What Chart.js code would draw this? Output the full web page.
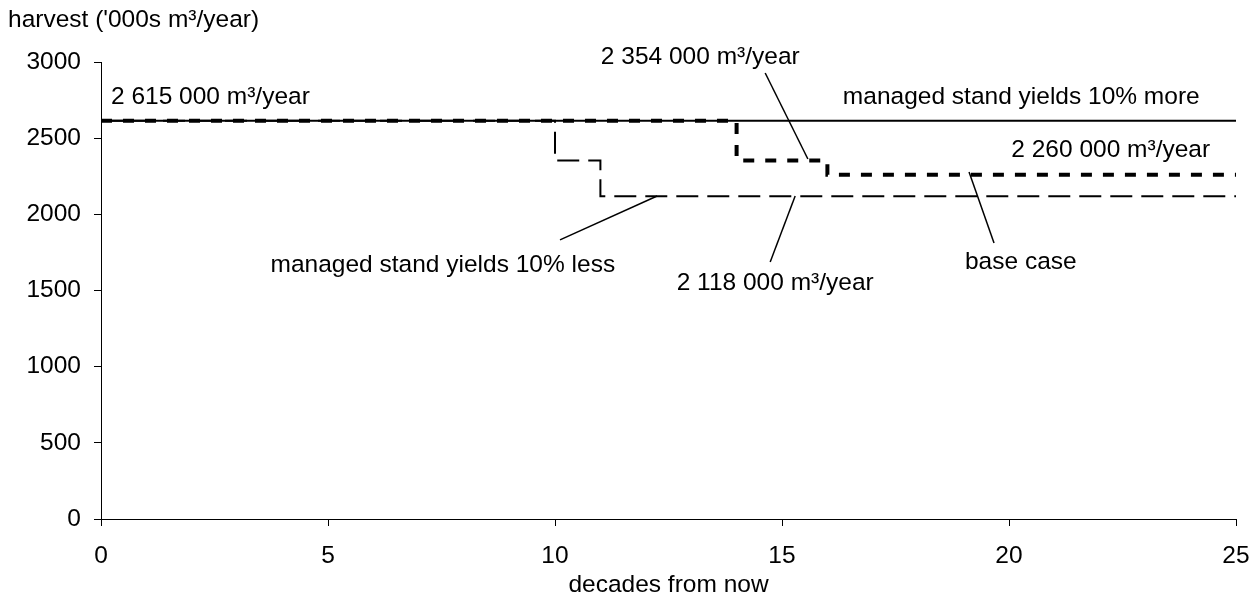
<!DOCTYPE html>
<html>
<head>
<meta charset="utf-8">
<title>Harvest projection</title>
<script src="https://cdn.jsdelivr.net/npm/chart.js@4/dist/chart.umd.min.js"></script>
<style>
    html, body { margin: 0; padding: 0; background: #ffffff; }
    #wrap { width: 1256px; height: 612px; position: relative; }
</style>
</head>
<body>
<div id="wrap"><canvas id="harvestChart"></canvas></div>
<script>
// Step points, decades from now and harvest in '000s m3/year
const moreDecades = [0, 25];
const moreHarvest = [2615, 2615];
const baseDecades = [0, 14, 16, 25];
const baseHarvest = [2615, 2354, 2260, 2260];
const lessDecades = [0, 10, 11, 25];
const lessHarvest = [2615, 2354, 2118, 2118];

// Tick values
const xTicks = [0, 5, 10, 15, 20, 25];
const yTicks = [0, 500, 1000, 1500, 2000, 2500, 3000];

// Callout texts, placed in data units
const labelTexts = ["2 615 000 m³/year", "managed stand yields 10% more", "2 354 000 m³/year",
    "2 260 000 m³/year", "base case", "managed stand yields 10% less", "2 118 000 m³/year"];
const labelX = [0.22, 24.2, 13.2, 24.43, 20.26, 7.53, 14.85];
const labelY = [2770, 2770, 3033, 2423, 1687, 1668, 1549];
const labelAlign = ["left", "right", "center", "right", "center", "center", "center"];

// Leader lines [x1, y1, x2, y2] in data units
const leaders = [
    [14.63, 2928, 15.57, 2363],
    [19.12, 2278, 19.67, 1812],
    [10.11, 1832, 12.25, 2120],
    [14.74, 1687, 15.29, 2120]
];

const FONT = "'Liberation Sans', Arial, sans-serif";
const FONT_SIZE = 24.5;

function toPoints(xs, ys) {
    return xs.map((x, i) => ({ x: x, y: ys[i] }));
}

// Draws callouts and axis titles
const calloutPlugin = {
    id: "callouts",
    afterDraw(chart) {
        const ctx = chart.ctx;
        const xs = chart.scales.x;
        const ys = chart.scales.y;
        ctx.save();
        ctx.fillStyle = "#000";
        ctx.strokeStyle = "#000";
        ctx.lineWidth = 1.5;
        ctx.font = FONT_SIZE + "px " + FONT;
        ctx.textBaseline = "middle";

        labelTexts.forEach((t, i) => {
            ctx.textAlign = labelAlign[i];
            ctx.fillText(t, xs.getPixelForValue(labelX[i]), ys.getPixelForValue(labelY[i]));
        });

        leaders.forEach(l => {
            ctx.beginPath();
            ctx.moveTo(xs.getPixelForValue(l[0]), ys.getPixelForValue(l[1]));
            ctx.lineTo(xs.getPixelForValue(l[2]), ys.getPixelForValue(l[3]));
            ctx.stroke();
        });

        // axis titles
        ctx.textAlign = "left";
        ctx.fillText("harvest ('000s m³/year)", 8, 20);
        ctx.textAlign = "center";
        ctx.fillText("decades from now", (chart.chartArea.left + chart.chartArea.right) / 2, 585);
        ctx.restore();
    }
};

const ctx = document.getElementById("harvestChart").getContext("2d");
new Chart(ctx, {
    type: "line",
    data: {
        datasets: [
            {
                label: "base case",
                data: toPoints(baseDecades, baseHarvest),
                borderColor: "#000",
                borderWidth: 4,
                borderDash: [11, 11],
                stepped: "before",
                pointRadius: 0,
                fill: false,
                order: 0
            },
            {
                label: "managed stand yields 10% less",
                data: toPoints(lessDecades, lessHarvest),
                borderColor: "#000",
                borderWidth: 2,
                borderDash: [22, 9],
                stepped: "before",
                pointRadius: 0,
                fill: false,
                order: 1
            },
            {
                label: "managed stand yields 10% more",
                data: toPoints(moreDecades, moreHarvest),
                borderColor: "#000",
                borderWidth: 2,
                stepped: "before",
                pointRadius: 0,
                fill: false,
                order: 2
            }
        ]
    },
    options: {
        responsive: true,
        maintainAspectRatio: false,
        animation: false,
        layout: { padding: { top: 62, right: 20, bottom: 0, left: 0 } },
        plugins: {
            legend: { display: false },
            tooltip: { enabled: false }
        },
        scales: {
            x: {
                type: "linear",
                min: xTicks[0],
                max: xTicks[xTicks.length - 1],
                afterBuildTicks: s => { s.ticks = xTicks.map(v => ({ value: v })); },
                afterFit: s => { s.height = 93; s.paddingLeft = 0; s.paddingRight = 0; },
                border: { color: "#000", width: 1 },
                grid: { drawOnChartArea: false, tickLength: 7, tickColor: "#000" },
                ticks: {
                    color: "#000", padding: 16,
                    font: { family: FONT, size: FONT_SIZE },
                    callback: v => String(v)
                }
            },
            y: {
                min: yTicks[0],
                max: yTicks[yTicks.length - 1],
                afterBuildTicks: s => { s.ticks = yTicks.map(v => ({ value: v })); },
                afterFit: s => { s.width = 101; },
                border: { color: "#000", width: 1 },
                grid: { drawOnChartArea: false, tickLength: 7, tickColor: "#000" },
                ticks: {
                    color: "#000", padding: 13,
                    font: { family: FONT, size: FONT_SIZE },
                    callback: v => String(v)
                }
            }
        }
    },
    plugins: [calloutPlugin]
});
</script>
</body>
</html>
